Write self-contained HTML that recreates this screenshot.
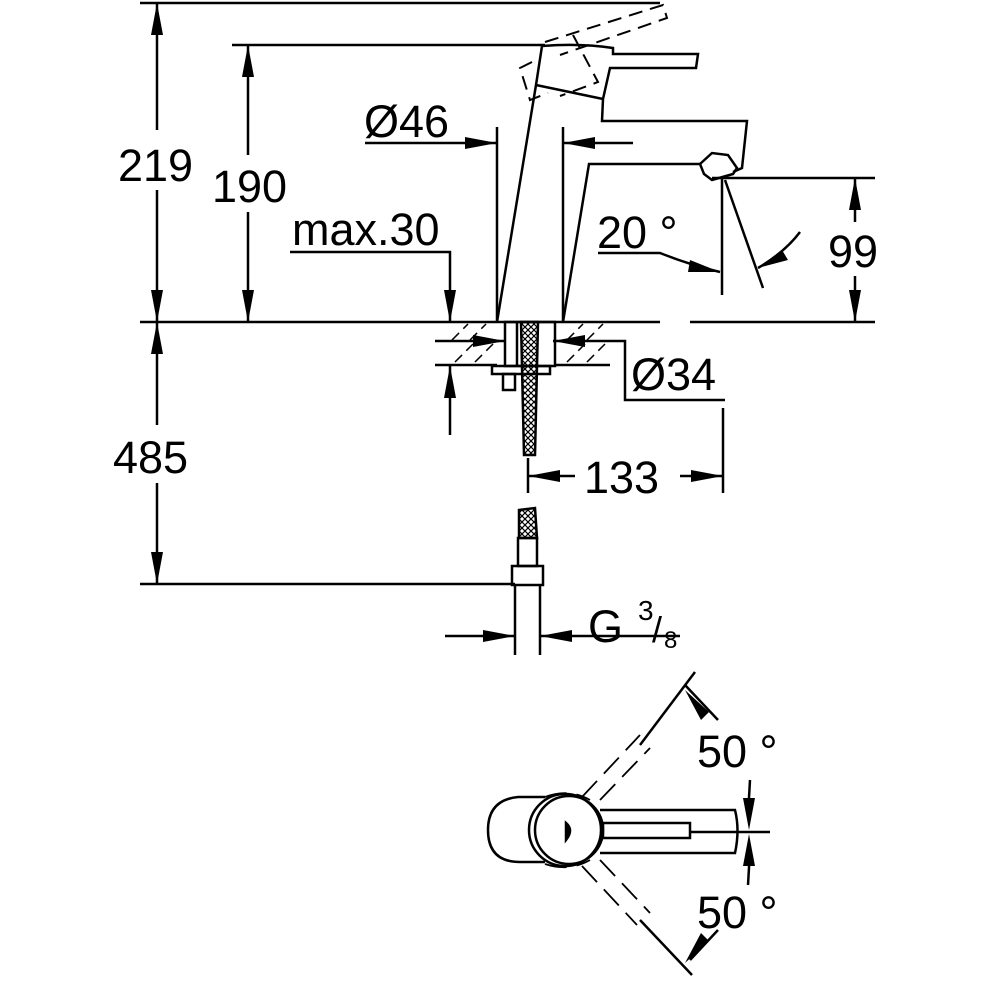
<!DOCTYPE html>
<html><head><meta charset="utf-8"><style>html,body{margin:0;padding:0;background:#fff}svg{display:block}text{font-family:"Liberation Sans",sans-serif;fill:#000}</style></head><body>
<svg width="1000" height="1000" viewBox="0 0 1000 1000" xmlns="http://www.w3.org/2000/svg">
<defs>
<pattern id="x" width="6" height="6" patternUnits="userSpaceOnUse"><path d="M0,0 L6,6 M6,0 L0,6" stroke="#000" stroke-width="1.2"/></pattern>
</defs>
<g stroke="#000" stroke-width="2.5" fill="none">
<line x1="140" y1="3" x2="660" y2="3"/>
<line x1="232" y1="45" x2="545" y2="45"/>
<line x1="140" y1="322" x2="660" y2="322"/>
<line x1="690" y1="322" x2="875" y2="322"/>
<line x1="140" y1="584" x2="515" y2="584"/>
<line x1="157" y1="130" x2="157" y2="3"/>
<path d="M157,3 l-6,32 h12z M157,322 l-6,-32 h12z" fill="#000" stroke="none"/>
<line x1="157" y1="190" x2="157" y2="322"/>
<line x1="248" y1="45" x2="248" y2="155"/>
<line x1="248" y1="212" x2="248" y2="322"/>
<path d="M248,45 l-6,32 h12z M248,322 l-6,-32 h12z" fill="#000" stroke="none"/>
<line x1="157" y1="322" x2="157" y2="425"/>
<line x1="157" y1="483" x2="157" y2="584"/>
<path d="M157,322 l-6,32 h12z M157,584 l-6,-32 h12z" fill="#000" stroke="none"/>
<polyline points="290,252 450,252 450,322"/>
<path d="M450,322 l-6,-32 h12z" fill="#000" stroke="none"/>
<line x1="450" y1="366" x2="450" y2="435"/>
<path d="M450,366 l-6,32 h12z" fill="#000" stroke="none"/>
<line x1="365" y1="143" x2="497" y2="143"/>
<path d="M497,143 l-32,-6 v12z M563,143 l32,-6 v12z" fill="#000" stroke="none"/>
<line x1="563" y1="143" x2="633" y2="143"/>
<line x1="497" y1="127" x2="497" y2="322"/>
<line x1="563" y1="127" x2="563" y2="322"/>
<path d="M497,322 L536,85 L542,46 Q580,43 613,48 L613,54 L698,54 L696,68 L610,68 L603,99 L602,121 L747,121 L742,168 L733,172"/>
<path d="M536,85 L603,99"/>
<path d="M563,322 L589,164 L700,164"/>
<path d="M700,164 L712,153 L728,155 L737,168 L733,174 L712,180 L704,174 Z"/>
<g stroke-dasharray="14,8" stroke-width="2">
<path d="M532,62 L520,68 L530,100 L548,93"/>
<path d="M545,42 L663,5 L667,18 L560,55"/>
<path d="M573,35 L598,82 L560,96"/>
</g>
<line x1="712" y1="178" x2="875" y2="178"/>
<line x1="722" y1="178" x2="722" y2="295"/>
<line x1="725" y1="180" x2="763" y2="288"/>
<path d="M598,253 L660,253 Q690,265 720,272"/>
<path d="M720,272 l-30,-12 l-2,12z" fill="#000" stroke="none"/>
<path d="M758,268 Q785,252 800,232"/>
<path d="M758,268 l30,-8 l-6,-10z" fill="#000" stroke="none"/>
<line x1="855" y1="178" x2="855" y2="222"/>
<line x1="855" y1="276" x2="855" y2="322"/>
<path d="M855,178 l-6,32 h12z M855,322 l-6,-32 h12z" fill="#000" stroke="none"/>
<line x1="435" y1="365" x2="497" y2="365"/>
<line x1="555" y1="365" x2="610" y2="365"/>
<g stroke-width="1.5" stroke-dasharray="10,6">
<path d="M452,340 l16,-16 M470,340 l16,-16 M455,362 l18,-18 M475,362 l18,-18 M567,340 l16,-16 M587,340 l16,-16 M567,362 l18,-18 M587,362 l18,-18"/>
</g>
<line x1="435" y1="341" x2="505" y2="341"/>
<path d="M505,341 l-32,-6 v12z M553,341 l32,-6 v12z" fill="#000" stroke="none"/>
<polyline points="553,341 625,341 625,400 725,400"/>
<rect x="505" y="322" width="50" height="44"/>
<line x1="517" y1="322" x2="517" y2="366"/>
<rect x="492" y="366" width="58" height="8"/>
<rect x="503" y="374" width="12" height="16"/>
<path d="M521,322 L538,322 L535,455 L524,455 Z" fill="url(#x)"/>
<line x1="723" y1="408" x2="723" y2="493"/>
<line x1="528" y1="458" x2="528" y2="493"/>
<line x1="528" y1="476" x2="575" y2="476"/>
<line x1="680" y1="476" x2="723" y2="476"/>
<path d="M528,476 l32,-6 v12z M723,476 l-32,-6 v12z" fill="#000" stroke="none"/>
<path d="M519,510 L535,508 L537,538 L519,538 Z" fill="url(#x)"/>
<rect x="518" y="538" width="19" height="28"/>
<rect x="512" y="566" width="31" height="19"/>
<line x1="515" y1="585" x2="515" y2="655"/>
<line x1="540" y1="585" x2="540" y2="655"/>
<line x1="445" y1="636" x2="515" y2="636"/>
<line x1="540" y1="636" x2="680" y2="636"/>
<path d="M515,636 l-32,-6 v12z M540,636 l32,-6 v12z" fill="#000" stroke="none"/>
<path d="M545,797 L518,797 Q488,800 488,830 Q488,862 520,862 L545,862"/>
<circle cx="565" cy="830" r="36"/>
<circle cx="569" cy="830" r="34"/>
<path d="M600,810 L735,810 Q740,830 735,853 L600,853"/>
<rect x="603" y="823" width="87" height="15"/>
<line x1="690" y1="832" x2="770" y2="832"/>
<path d="M566,823 Q574,830 566,840 Z" fill="#000"/>
<line x1="750" y1="780" x2="748" y2="815"/>
<line x1="750" y1="850" x2="748" y2="885"/>
<path d="M749,830 l-6,-32 h12z M749,834 l-6,32 h12z" fill="#000" stroke="none"/>
<line x1="640" y1="745" x2="695" y2="672"/>
<line x1="640" y1="920" x2="692" y2="975"/>
<path d="M685,685 L718,720 M690,960 L718,930"/>
<path d="M685,690 l16,30 l8,-8z M685,963 l16,-30 l8,8z" fill="#000" stroke="none"/>
<g stroke-dasharray="22,10" stroke-width="1.8">
<line x1="582" y1="797" x2="640" y2="735"/>
<line x1="600" y1="800" x2="650" y2="748"/>
<line x1="582" y1="866" x2="637" y2="925"/>
<line x1="600" y1="860" x2="650" y2="913"/>
<path d="M545,797 Q569,788 590,800 M545,864 Q569,872 590,860"/>
</g>
</g>
<g font-size="45">
<text x="118" y="181">219</text>
<text x="212" y="202">190</text>
<text x="113" y="473">485</text>
<text x="292" y="245">max.30</text>
<text x="364" y="137">Ø46</text>
<text x="597" y="248">20 °</text>
<text x="828" y="267">99</text>
<text x="631" y="390">Ø34</text>
<text x="584" y="493">133</text>
<text x="588" y="642">G</text>
<text x="697" y="767">50 °</text>
<text x="697" y="928">50 °</text>
</g>
<text x="638" y="620" font-size="28">3</text>
<text x="652" y="642" font-size="36">/</text>
<text x="664" y="648" font-size="24">8</text>
</svg>
</body></html>
